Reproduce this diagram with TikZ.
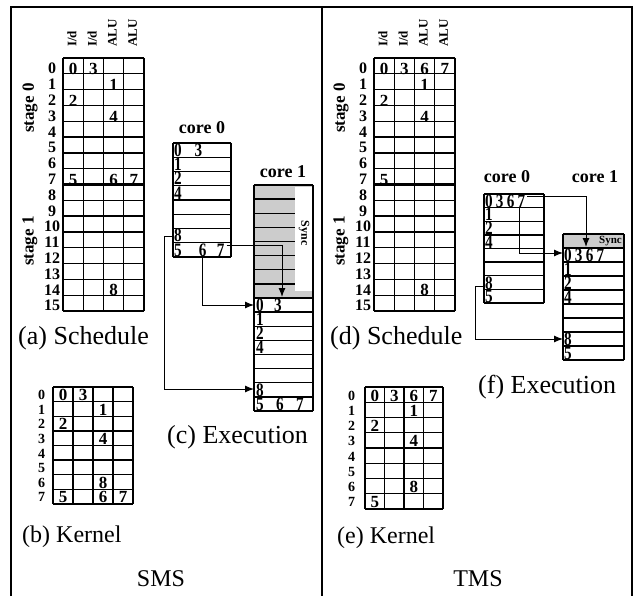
\documentclass[tikz,border=0pt]{standalone}
\usepackage{fontspec}
\setmainfont{Liberation Serif}
\usetikzlibrary{arrows.meta}

\tikzset{
  frame/.style={line width=2.2pt},
  cell/.style={line width=1.3pt},
  stageline/.style={line width=2.2pt},
  val/.style={font=\bfseries\fontsize{17}{17}\selectfont, inner sep=0pt},
  lab/.style={font=\bfseries\fontsize{16}{16}\selectfont, inner sep=0pt},
  klab/.style={font=\bfseries\fontsize{14}{14}\selectfont, inner sep=0pt},
  head/.style={font=\bfseries\fontsize{13}{13}\selectfont, rotate=90, anchor=west, inner sep=0pt},
  stagelab/.style={font=\bfseries\fontsize{17}{17}\selectfont, rotate=90, inner sep=0pt},
  corelab/.style={font=\bfseries\fontsize{18}{18}\selectfont, inner sep=0pt},
  ex/.style={font=\bfseries\fontsize{19}{19}\selectfont, anchor=base west, inner sep=0pt, xscale=0.8},
  figcap/.style={font=\fontsize{26}{26}\selectfont, anchor=west, inner sep=0pt},
  kcap/.style={font=\fontsize{24}{24}\selectfont, anchor=west, inner sep=0pt},
  arr/.style={line width=1pt, -{Latex[length=9pt,width=7pt]}},
}

\begin{document}
\begin{tikzpicture}[x=1pt,y=-1pt]
\useasboundingbox (0,0) rectangle (636,596);
% Frame
\draw[frame] (11,596) -- (11,7) -- (632,7) -- (632,596);
\draw[frame] (322,7) -- (322,596);

% (a) Schedule
\foreach \i in {0,...,16} \draw[cell] (63,{58+15.8125*\i}) -- (144,{58+15.8125*\i});
\foreach \j in {0,...,4} \draw[cell] ({63+20.25*\j},58) -- ({63+20.25*\j},311);
\draw[stageline] (63,184.5) -- (144,184.5);
\foreach \i in {0,...,15} \node[lab] (sa-l\i) at (52,{68.5+15.8125*\i}) {\i};
\foreach \j/\t in {0/{I/d},1/{I/d},2/ALU,3/ALU} \node[head] (sa-h\j) at ({72+20.25*\j},47) {\t};
\node[stagelab] (sa-s0) at (30,108) {stage 0};
\node[stagelab] (sa-s1) at (30,241) {stage 1};
\foreach \r/\c/\v in {0/0/0,0/1/3,1/2/1,2/0/2,3/2/4,7/0/5,7/2/6,7/3/7,14/2/8}
  \node[val] (sa-\r-\c) at ({73+20.25*\c},{69+15.8125*\r}) {\v};
\node[figcap] (sa-cap) at (18,338) {(a) Schedule};

% (b) Kernel
\foreach \i in {0,...,8} \draw[cell] (53,{387+14.625*\i}) -- (133,{387+14.625*\i});
\foreach \j in {0,...,4} \draw[cell] ({53+20*\j},387) -- ({53+20*\j},504);
\foreach \i in {0,...,7} \node[klab] (sb-l\i) at (41.5,{395+14.625*\i}) {\i};
\foreach \r/\c/\v in {0/0/0,0/1/3,1/2/1,2/0/2,3/2/4,6/2/8,7/0/5,7/2/6,7/3/7}
  \node[val] (sb-\r-\c) at ({63+20*\c},{395+14.625*\r}) {\v};
\node[kcap] (sb-cap) at (22,537) {(b) Kernel};

% (c) Execution
\node[corelab] (sc-k0) at (202,128) {core 0};
\node[corelab] (sc-k1) at (283,172) {core 1};
\foreach \i in {0,...,8} \draw[cell] (173,{143+14.25*\i}) -- (231,{143+14.25*\i});
\draw[cell] (173,143) -- (173,257) (231,143) -- (231,257);
\fill[gray!40] (254,185) rectangle (313,298);
\foreach \i in {0,...,16} \draw[cell] (254,{185+14.125*\i}) -- (313,{185+14.125*\i});
\fill[white] (295,187) rectangle (312.3,291);
\node[font=\bfseries\fontsize{12}{12}\selectfont, rotate=-90, inner sep=0pt] (sc-sync) at (304,233) {Sync};
\draw[cell] (254,185) -- (254,411) (313,185) -- (313,411);
\node[ex] (sc0-0) at (174,156.5) {0\hspace{16pt}3};
\node[ex] (sc0-1) at (174,170.5) {1};
\node[ex] (sc0-2) at (174,184.5) {2};
\node[ex] (sc0-3) at (174,199) {4};
\node[ex] (sc0-6) at (174,241.5) {8};
\node[ex] (sc0-7) at (174,256) {5\hspace{21.5pt}6\hspace{13pt}7};
\node[ex] (sc1-0) at (256,311.5) {0\hspace{13pt}3};
\node[ex] (sc1-1) at (256,325.5) {1};
\node[ex] (sc1-2) at (256,339.5) {2};
\node[ex] (sc1-3) at (256,353.5) {4};
\node[ex] (sc1-6) at (256,396) {8};
\node[ex] (sc1-7) at (256,410) {5\hspace{15.5pt}6\hspace{15.5pt}7};
\coordinate (sc-a) at (282,297);
\coordinate (sc-b0) at (202,257);
\coordinate (sc-b) at (254,305);
\coordinate (sc-c0) at (173,236);
\coordinate (sc-c) at (254,389);
\draw[arr] (sc0-7.east) ++(2,-4) -| (sc-a);
\draw[arr] (sc-b0) |- (sc-b);
\draw[arr] (sc-c0) -- ++(-9,0) |- (sc-c);
\node[figcap] (sc-cap) at (167,437) {(c) Execution};

\node[kcap, anchor=center] (sms) at (161,579) {SMS};

% (d) Schedule
\foreach \i in {0,...,16} \draw[cell] (374,{58+15.8125*\i}) -- (455,{58+15.8125*\i});
\foreach \j in {0,...,4} \draw[cell] ({374+20.25*\j},58) -- ({374+20.25*\j},311);
\draw[stageline] (374,184.5) -- (455,184.5);
\foreach \i in {0,...,15} \node[lab] (sd-l\i) at (363,{68.5+15.8125*\i}) {\i};
\foreach \j/\t in {0/{I/d},1/{I/d},2/ALU,3/ALU} \node[head] (sd-h\j) at ({383+20.25*\j},47) {\t};
\node[stagelab] (sd-s0) at (341,108) {stage 0};
\node[stagelab] (sd-s1) at (341,241) {stage 1};
\foreach \r/\c/\v in {0/0/0,0/1/3,0/2/6,0/3/7,1/2/1,2/0/2,3/2/4,7/0/5,14/2/8}
  \node[val] (sd-\r-\c) at ({384+20.25*\c},{69+15.8125*\r}) {\v};
\node[figcap] (sd-cap) at (330,338) {(d) Schedule};

% (e) Kernel
\foreach \i in {0,...,8} \draw[cell] (365,{387+15.25*\i}) -- (443,{387+15.25*\i});
\foreach \j in {0,...,4} \draw[cell] ({365+19.5*\j},387) -- ({365+19.5*\j},509);
\foreach \i in {0,...,7} \node[klab] (se-l\i) at (351.5,{395.5+15.25*\i}) {\i};
\foreach \r/\c/\v in {0/0/0,0/1/3,0/2/6,0/3/7,1/2/1,2/0/2,3/2/4,6/2/8,7/0/5}
  \node[val] (se-\r-\c) at ({374.75+19.5*\c},{395.5+15.25*\r}) {\v};
\node[kcap] (se-cap) at (337,538) {(e) Kernel};

% (f) Execution
\node[corelab] (sf-k0) at (507,177) {core 0};
\node[corelab] (sf-k1) at (595,177) {core 1};
\foreach \i in {0,...,8} \draw[cell] (484,{194+13.625*\i}) -- (544,{194+13.625*\i});
\draw[cell] (484,194) -- (484,303) (544,194) -- (544,303);
\fill[gray!40] (563,234) rectangle (624,248);
\node[font=\bfseries\fontsize{11}{11}\selectfont, anchor=east, inner sep=0pt] (sf-sync) at (622,241) {Sync};
\foreach \i in {0,...,9} \draw[cell] (563,{234+14*\i}) -- (624,{234+14*\i});
\draw[cell] (563,234) -- (563,360) (624,234) -- (624,360);
\node[ex] (sf0-0) at (485,207) {0\hspace{4pt}3\hspace{4pt}6\hspace{4pt}7};
\node[ex] (sf0-1) at (485,220.5) {1};
\node[ex] (sf0-2) at (485,234) {2};
\node[ex] (sf0-3) at (485,248) {4};
\node[ex] (sf0-6) at (485,289) {8};
\node[ex] (sf0-7) at (485,302.5) {5};
\node[ex] (sf1-0) at (564,261.5) {0\hspace{4pt}3\hspace{4pt}6\hspace{4pt}7};
\node[ex] (sf1-1) at (564,275.5) {1};
\node[ex] (sf1-2) at (564,289.5) {2};
\node[ex] (sf1-3) at (564,303.5) {4};
\node[ex] (sf1-6) at (564,345.5) {8};
\node[ex] (sf1-7) at (564,359.5) {5};
\coordinate (sf-a) at (586,247);
\coordinate (sf-b0) at (519,207);
\coordinate (sf-b) at (563,253);
\coordinate (sf-c0) at (484,286);
\coordinate (sf-c) at (563,339);
\draw[arr] (sf0-0.east) ++(2,-4) -| (sf-a);
\draw[arr] (sf-b0) |- (sf-b);
\draw[arr] (sf-c0) -- ++(-9,0) |- (sf-c);
\node[figcap] (sf-cap) at (478,387) {(f) Execution};

\node[kcap, anchor=center] (tms) at (478,579) {TMS};
\end{tikzpicture}
\end{document}
